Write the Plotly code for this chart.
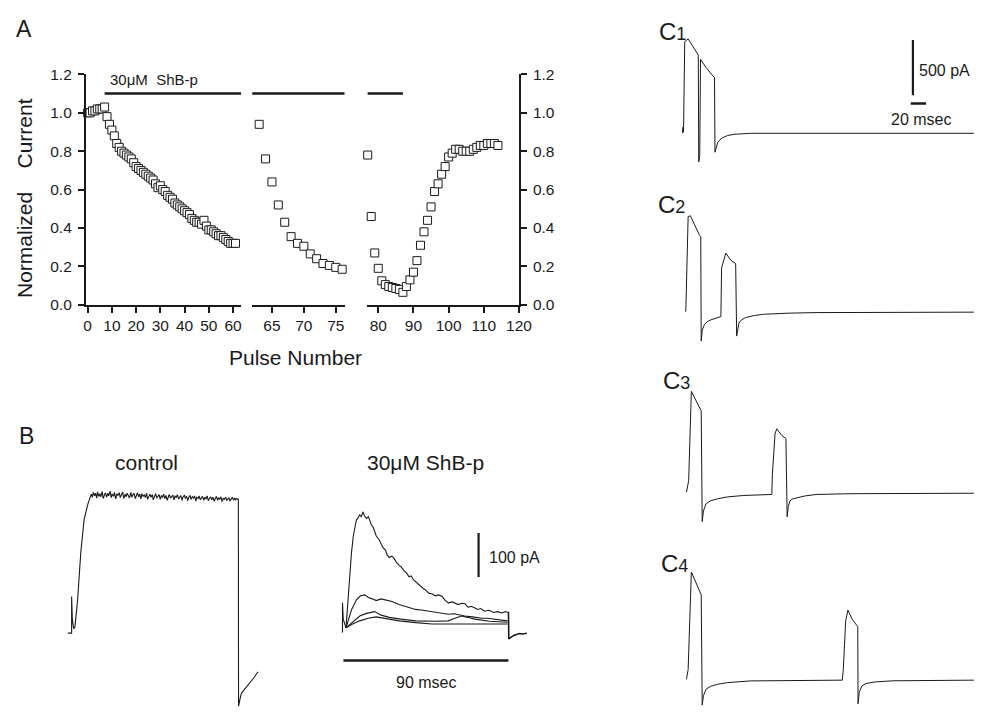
import plotly.graph_objects as go

W, H = 987, 715
FONT = "Liberation Sans"
INK = "#1a1a1a"

# ---------------- Panel A : normalized current vs pulse number ----------------
pulse_seg1 = list(range(0, 62))
current_seg1 = [1.00, 1.00, 1.01, 1.01, 1.02, 1.02, 1.02, 1.03, 0.98, 0.94,
                0.91, 0.88, 0.84, 0.82, 0.80, 0.79, 0.78, 0.77, 0.76, 0.74,
                0.72, 0.71, 0.70, 0.69, 0.68, 0.67, 0.66, 0.65, 0.63, 0.61,
                0.62, 0.60, 0.59, 0.57, 0.56, 0.55, 0.53, 0.52, 0.51, 0.50,
                0.49, 0.48, 0.47, 0.45, 0.44, 0.43, 0.43, 0.42, 0.44, 0.41,
                0.39, 0.39, 0.38, 0.37, 0.36, 0.36, 0.35, 0.34, 0.33, 0.32,
                0.32, 0.32]
pulse_seg2 = list(range(63, 77))
current_seg2 = [0.94, 0.76, 0.64, 0.52, 0.43, 0.355, 0.32, 0.305, 0.265, 0.24,
                0.215, 0.205, 0.195, 0.185]
pulse_seg3 = list(range(77, 115))
current_seg3 = [0.78, 0.46, 0.27, 0.19, 0.125, 0.105, 0.095, 0.09, 0.085, 0.08,
                0.065, 0.095, 0.13, 0.17, 0.23, 0.31, 0.38, 0.44, 0.51, 0.59,
                0.63, 0.68, 0.72, 0.77, 0.79, 0.81, 0.81, 0.80, 0.80, 0.80,
                0.81, 0.82, 0.83, 0.83, 0.84, 0.84, 0.84, 0.83]
# application of 30 uM ShB-p (pulse ranges)
shb_bar_seg1 = [7, 63.4]
shb_bar_seg2 = [61.9, 76.4]
shb_bar_seg3 = [76.9, 87]
shb_bar_level = [1.1, 1.1]

ticks_seg1 = [0, 10, 20, 30, 40, 50, 60]
ticks_seg2 = [65, 70, 75]
ticks_seg3 = [80, 90, 100, 110, 120]
ticks_y = [0.0, 0.2, 0.4, 0.6, 0.8, 1.0, 1.2]

# ---------------- Panel B : current traces (ms, pA) ----------------
ctrl_on_t = [-2.8, -0.7, -0.7, -0.3, 0.4, 1.1, 2.5, 4.3, 6.1, 8.2]
ctrl_on_i = [0, 0, 83, 32, 10, 14, 72, 183, 258, 294]
ctrl_plateau_t = [10, 10.6, 11.1, 11.8, 12.3, 13, 13.4, 14.1, 14.7, 15.2, 16, 16.5, 17.3, 17.8,
                  18.4, 19.1, 19.5, 20.3, 20.9, 21.4, 22.2, 22.6, 23.4, 24, 24.5, 25.3, 25.8,
                  26.6, 27.1, 27.7, 28.5, 29, 29.6, 30.3, 30.8, 31.6, 32.1, 32.8, 33.3, 34,
                  34.6, 35.2, 35.9, 36.4, 37.1, 37.6, 38.3, 38.9, 39.5, 40.2, 40.7, 41.5,
                  42, 42.6, 43.3, 43.8, 44.6, 45.1, 45.8, 46.3, 47, 47.6, 48.2, 48.9, 49.4,
                  50.2, 50.7, 51.4, 52, 52.5, 53.3, 53.8, 54.5, 55.1, 55.7, 56.4, 56.9,
                  57.7, 58.2, 58.8, 59.5, 60, 60.8, 61.3, 62, 62.6, 63.2, 63.9, 64.4, 65.1,
                  65.7, 66.3, 67, 67.5, 68.3, 68.8, 69.5, 70.1, 70.6, 71.4, 71.9, 72.6,
                  73.2, 73.8, 74.5, 75, 75.8, 76.3, 77, 77.6, 78.2, 78.9, 79.4, 80.1, 80.7,
                  81.3, 82, 82.5, 83.3, 83.8, 84.5, 85.1, 85.6, 86.4, 86.9, 87.6, 88.2,
                  88.7, 89.4, 90]
ctrl_plateau_i = [316, 309, 320, 312, 318, 307, 321, 311, 317, 310, 322, 306, 315, 319,
                  309, 318, 312, 323, 308, 316, 311, 320, 305, 317, 313, 319, 308, 314,
                  321, 306, 316, 310, 318, 312, 307, 320, 309, 315, 318, 306, 313, 319,
                  310, 316, 305, 317, 311, 314, 308, 318, 304, 312, 316, 309, 315, 303,
                  313, 317, 307, 311, 315, 304, 312, 309, 316, 306, 313, 302, 311, 315,
                  307, 310, 314, 303, 312, 308, 315, 305, 310, 313, 302, 309, 314, 306,
                  311, 301, 309, 313, 304, 310, 307, 312, 300, 309, 306, 312, 303, 308,
                  311, 302, 309, 305, 312, 301, 307, 310, 303, 309, 300, 306, 311, 302,
                  308, 304, 310, 299, 307, 304, 309, 301, 306, 308, 300, 305, 309, 302,
                  307, 303, 306, 304]
ctrl_off_t = [90.2, 90.3, 90.6, 91, 91.5, 92, 93, 94, 95, 96, 97, 98, 99, 100, 101]
ctrl_off_i = [305, -166, -158, -148, -142, -136, -131, -124, -121, -114, -111, -104, -100, -93, -88]

shb_pre_t = [-2.3, -1.9, -1.9, -1.5, 0]
shb_pre_i = [0, 0, 66, 29, 9]
shb_t1 = [0, 1, 2.1, 3, 4.0, 5, 5.7, 6.5, 7.4, 8.3, 9.3, 10.0, 11.1, 12.2, 13.0,
          13.8, 15, 16.5, 18, 19, 20.1, 21.5, 22.5, 23.6, 25, 26.2, 27.5, 29.0, 30, 31.5,
          33, 34.4, 35.5, 36.9, 38.2, 39.7, 41, 42.3, 43.5, 45.1, 47, 48.7, 50.5, 52.3,
          54, 55.8, 58, 61.2, 63, 64.8, 66.5, 68.4, 70, 71.8, 73.5, 75.6, 78, 80.5,
          82.7, 85, 87, 88.1]
shb_i1 = [9, 70, 129, 180, 218, 240, 255, 258, 266, 262, 273, 264, 258, 262, 250,
          244, 236, 218, 210, 200, 192, 186, 175, 169, 172, 167, 158, 151, 148, 140,
          134, 125, 127, 118, 113, 107, 104, 98, 95, 88, 86, 82, 84, 81,
          72, 66, 68, 62, 65, 64, 56, 58, 55, 51, 53, 47, 49, 44,
          46, 43, 46, 44]
shb_t2 = [0, 3.1, 5.7, 7.9, 10.2, 12.2, 14.3, 16.5, 19.1, 21.9, 25.1, 29.0, 32.6, 37.9,
          42, 46.9, 51, 55.8, 59, 62.1, 64.8, 69, 73.8, 77, 80.9, 84.5, 88.1]
shb_i2 = [9, 51, 73, 82, 84, 78, 75, 71, 75, 73, 69, 62, 58, 51,
          49, 46, 43, 40, 41, 38, 36, 34, 31, 31, 29, 27, 25]
shb_t3 = [0, 3.6, 7.5, 11.1, 15.6, 19.2, 23.6, 29.9, 38, 48.7, 55.8, 59.4, 63.0, 66.4,
          70.2, 78.2, 88.1]
shb_i3 = [9, 22, 36, 42, 46, 38, 33, 29, 25, 24, 25, 31, 36, 33, 29, 24, 22]
shb_t4 = [0, 3.6, 7.5, 12.2, 16.5, 21.9, 29.0, 38, 46.9, 56.7, 64.8, 75.6, 88.1]
shb_i4 = [9, 18, 25, 31, 34, 30, 25, 21, 18, 18, 18, 17, 18]
shb_tail_t = [88.1, 88.6, 88.8, 90, 91.4, 93, 94.6, 96, 98.6]
shb_tail_i = [44, 44, -16, -12, -8, -6, -4, -5, -3]

# ---------------- Panel C : paired-pulse traces (ms, pA) ----------------
c1_t = [1.3, 1.9, 2.6, 4.2, 8.6, 15.0, 20.5, 21.8, 22.4, 23.7, 24.7, 32.0, 40.6, 42.9,
        43.5, 45, 47, 50, 53.4, 60, 68.2, 80, 89.6, 120, 200, 380]
c1_i = [0, 56, 11, 829, 852, 785, 726, 708, -259, -200, 667, 594, 520, 505,
        -171, -120, -83, -58, -39, -20, -9, -4, 0, 0, 0, 0]
c2_t = [5.5, 5.8, 8.6, 11.5, 23.4, 25.0, 25.6, 27, 29.8, 33, 38.4, 45, 51.2, 52.1,
        57.6, 64.0, 70.4, 71.7, 73, 74.6, 78, 83.2, 95, 106.6, 140, 175, 380]
c2_i = [4, 66, 863, 871, 695, 683, -260, -160, -113, -88, -69, -52, -40, 401,
        534, 469, 439, -216, -140, -99, -70, -49, -30, -19, -9, -4, 0]
c3_t = [6.4, 9.3, 12.8, 25.6, 26.9, 28.5, 32, 38, 47, 60, 81, 100, 117.4, 118.1,
        121.6, 123.8, 130.2, 135.7, 137.3, 138.8, 140.8, 144, 149.4, 160, 175, 220, 380]
c3_i = [9, 112, 920, 744, -256, -160, -94, -68, -50, -33, -20, -14, -11, 170,
        538, 582, 523, 494, -212, -120, -71, -52, -41, -25, -11, -4, 0]
c4_t = [6.4, 8.6, 12.8, 25.6, 26.9, 28.5, 32, 38, 47, 60, 89.6, 130, 209, 210.3,
        213.4, 216.3, 221.8, 229.1, 229.5, 231, 234.6, 240, 251.8, 275, 380]
c4_i = [7, 95, 977, 772, -225, -140, -81, -55, -37, -22, -7, -3, 0, 95,
        536, 633, 551, 483, -213, -110, -51, -30, -16, -6, 0]

# scale bars
B_bar_pA = 100
B_bar_ms = 90
C_bar_pA = 500
C_bar_ms = 20


# ---------------- helpers (layout only) ----------------
def fx(a, b):
    return [a / W, b / W]


def fy(top, bottom):
    return [1 - bottom / H, 1 - top / H]


def px(x):
    return x / W


def py(y):
    return 1 - y / H


fig = go.Figure()
sq = dict(symbol="square", size=8, color="white", line=dict(color=INK, width=1))

fig.add_trace(go.Scatter(x=pulse_seg1, y=current_seg1, mode="markers", marker=sq,
                         cliponaxis=False, xaxis="x", yaxis="y"))
fig.add_trace(go.Scatter(x=pulse_seg2, y=current_seg2, mode="markers", marker=sq,
                         cliponaxis=False, xaxis="x2", yaxis="y"))
fig.add_trace(go.Scatter(x=pulse_seg3, y=current_seg3, mode="markers", marker=sq,
                         cliponaxis=False, xaxis="x3", yaxis="y"))
for xa, bar in (("x", shb_bar_seg1), ("x2", shb_bar_seg2), ("x3", shb_bar_seg3)):
    fig.add_trace(go.Scatter(x=bar, y=shb_bar_level, mode="lines",
                             line=dict(color=INK, width=2.5), xaxis=xa, yaxis="y"))
# invisible trace to activate the right-hand axis
fig.add_trace(go.Scatter(x=[100], y=[0.5], mode="markers", marker=dict(opacity=0),
                         xaxis="x3", yaxis="y2", hoverinfo="skip"))

tr = dict(color=INK, width=1.1)
# Panel B control
fig.add_trace(go.Scatter(x=ctrl_on_t + ctrl_plateau_t + ctrl_off_t,
                         y=ctrl_on_i + ctrl_plateau_i + ctrl_off_i,
                         mode="lines", line=dict(color=INK, width=1.1), xaxis="x4", yaxis="y4"))
# Panel B ShB-p
fig.add_trace(go.Scatter(x=shb_pre_t, y=shb_pre_i, mode="lines", line=tr, xaxis="x5", yaxis="y5"))
for t, i in ((shb_t1, shb_i1), (shb_t2, shb_i2), (shb_t3, shb_i3), (shb_t4, shb_i4)):
    fig.add_trace(go.Scatter(x=t, y=i, mode="lines", line=tr, xaxis="x5", yaxis="y5"))
fig.add_trace(go.Scatter(x=shb_tail_t, y=shb_tail_i, mode="lines", line=dict(color=INK, width=1.6),
                         xaxis="x5", yaxis="y5"))
# B scale bars
fig.add_trace(go.Scatter(x=[72.3, 72.3], y=[125, 125 + B_bar_pA], mode="lines",
                         line=dict(color=INK, width=2.2), xaxis="x5", yaxis="y5"))
fig.add_trace(go.Scatter(x=[-1.4, -1.4 + B_bar_ms], y=[-65, -65], mode="lines",
                         line=dict(color=INK, width=2.5), xaxis="x5", yaxis="y5"))

# Panel C
for k, (t, i) in enumerate(((c1_t, c1_i), (c2_t, c2_i), (c3_t, c3_i), (c4_t, c4_i))):
    fig.add_trace(go.Scatter(x=t, y=i, mode="lines", line=dict(color=INK, width=1.0),
                             xaxis="x%d" % (6 + k), yaxis="y%d" % (6 + k)))
fig.add_trace(go.Scatter(x=[300.8, 300.8], y=[344, 344 + C_bar_pA], mode="lines",
                         line=dict(color=INK, width=2.2), xaxis="x6", yaxis="y6"))
fig.add_trace(go.Scatter(x=[298, 298 + C_bar_ms], y=[270, 270], mode="lines",
                         line=dict(color=INK, width=2.5), xaxis="x6", yaxis="y6"))

ax = dict(showgrid=False, zeroline=False, showline=True, linecolor=INK, linewidth=1.6,
          ticks="outside", ticklen=6, tickwidth=1.5, tickcolor=INK,
          tickfont=dict(family=FONT, size=15.5, color=INK))
hidden = dict(visible=False, showgrid=False, zeroline=False)

ydom_A = fy(67, 303)
c_xdom = fx(660, 987)
c_xrange = [-38.4, 380.2]

fig.update_layout(
    width=W, height=H, margin=dict(l=0, r=0, t=0, b=0),
    paper_bgcolor="white", plot_bgcolor="white", showlegend=False, hovermode=False,
    xaxis=dict(ax, domain=fx(85, 243), range=[-0.8, 63.4], tickvals=ticks_seg1, anchor="y"),
    xaxis2=dict(ax, domain=fx(254, 348), range=[61.9, 76.4], tickvals=ticks_seg2, anchor="y"),
    xaxis3=dict(ax, domain=fx(371, 525), range=[76.9, 120], tickvals=ticks_seg3, anchor="y"),
    yaxis=dict(ax, domain=ydom_A, range=[0, 1.2], tickvals=ticks_y, tickformat=".1f",
               anchor="x", ticklabelstandoff=3),
    yaxis2=dict(ax, domain=ydom_A, range=[0, 1.2], tickvals=ticks_y, tickformat=".1f",
                anchor="x3", side="right", overlaying="y", ticklabelstandoff=3),
    xaxis4=dict(hidden, domain=fx(60, 270), range=[-6.44, 106.3], anchor="y4"),
    yaxis4=dict(hidden, domain=fy(480, 715), range=[-168.1, 353.6], anchor="x4"),
    xaxis5=dict(hidden, domain=fx(330, 560), range=[-10.36, 113.15], anchor="y5"),
    yaxis5=dict(hidden, domain=fy(480, 715), range=[-170.9, 350.8], anchor="x5"),
    xaxis6=dict(hidden, domain=c_xdom, range=c_xrange, anchor="y6"),
    yaxis6=dict(hidden, domain=fy(2.6, 172.7), range=[-400, 1100], anchor="x6"),
    xaxis7=dict(hidden, domain=c_xdom, range=c_xrange, anchor="y7"),
    yaxis7=dict(hidden, domain=fy(185.8, 355.9), range=[-400, 1100], anchor="x7"),
    xaxis8=dict(hidden, domain=c_xdom, range=c_xrange, anchor="y8"),
    yaxis8=dict(hidden, domain=fy(371.3, 541.4), range=[-400, 1100], anchor="x8"),
    xaxis9=dict(hidden, domain=c_xdom, range=c_xrange, anchor="y9"),
    yaxis9=dict(hidden, domain=fy(562.8, 714.7), range=[-240, 1100], anchor="x9"),
)


def note(text, x, y, size, xanchor="center", angle=0):
    fig.add_annotation(text=text, x=px(x), y=py(y), xref="paper", yref="paper",
                       showarrow=False, xanchor=xanchor, yanchor="middle", textangle=angle,
                       font=dict(family=FONT, size=size, color=INK))


note("A", 22, 20, 23)
note("B", 25, 437, 23)
note("Normalized\u00a0\u00a0\u00a0\u00a0Current", 23, 194, 21, angle=-90)
note("Pulse Number", 298, 357, 21)
note("30\u03bcM\u00a0\u00a0ShB-p", 108, 72, 15, xanchor="left")
note("control", 147, 465, 21)
note("30\u03bcM ShB-p", 430, 465, 21)
note("100 pA", 492, 562, 16, xanchor="left")
note("90 msec", 431, 690, 16)
note("500 pA", 929, 63, 16, xanchor="left")
note("20 msec", 933, 113, 16)
for lbl, x, y in (("1", 665, 23), ("2", 664, 200), ("3", 669, 381), ("4", 667, 568)):
    note("C<span style='font-size:18px'>%s</span>" % lbl, x, y, 24, xanchor="left")

fig.write_html("out.html", config={"displayModeBar": False},
               post_script="document.body.style.margin='0';document.body.style.overflow='hidden';")
